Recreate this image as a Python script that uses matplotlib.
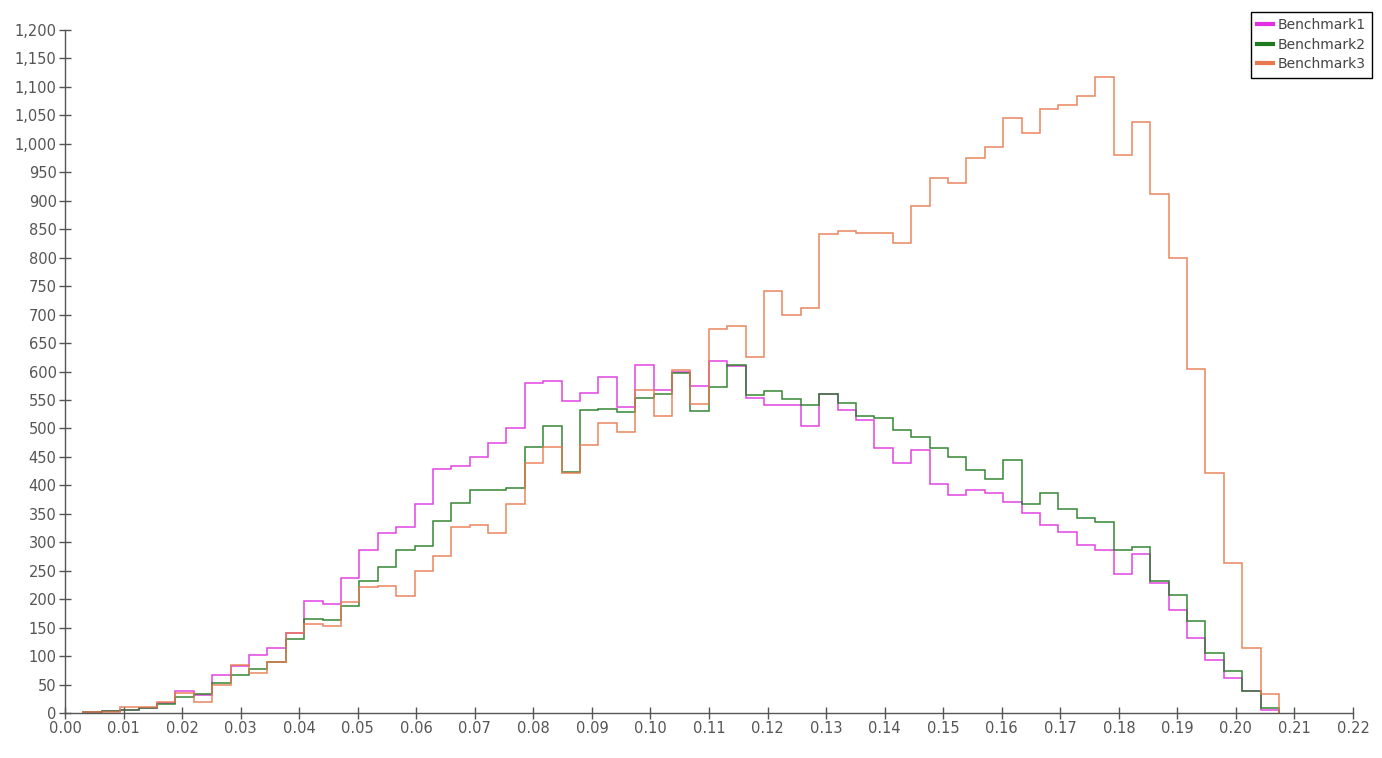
import numpy as np
import matplotlib
matplotlib.use("Agg")
import matplotlib.pyplot as plt
from matplotlib.lines import Line2D
from matplotlib.ticker import FuncFormatter, MultipleLocator

# bin edges: 65 bins of width ~0.00314, starting at one bin width
bin_width = 0.003142
edges = np.arange(1, 67) * bin_width

labels = ["Benchmark1", "Benchmark2", "Benchmark3"]
colors = ["#e030e0", "#1f7a1f", "#e8784e"]

bench1 = [1, 3, 6, 8, 17, 38, 31, 66, 83, 102,
          114, 140, 196, 192, 238, 286, 316, 327, 367, 428,
          434, 450, 474, 500, 579, 584, 549, 563, 591, 537,
          611, 568, 599, 575, 619, 609, 553, 541, 541, 504,
          560, 532, 514, 465, 439, 462, 402, 383, 391, 386,
          370, 351, 330, 318, 296, 286, 244, 279, 228, 181,
          132, 93, 62, 38, 6]
bench2 = [1, 3, 6, 8, 16, 28, 33, 53, 67, 78,
          90, 130, 165, 163, 188, 232, 256, 286, 294, 337,
          369, 391, 391, 395, 468, 505, 424, 532, 534, 528,
          553, 561, 597, 530, 573, 611, 559, 565, 551, 541,
          560, 544, 521, 518, 498, 485, 466, 450, 427, 411,
          445, 367, 387, 358, 343, 336, 286, 292, 232, 207,
          161, 106, 74, 39, 9]
bench3 = [2, 2, 10, 10, 19, 36, 20, 50, 85, 71,
          90, 141, 156, 152, 195, 222, 224, 205, 250, 276,
          326, 330, 317, 367, 439, 468, 421, 470, 509, 494,
          567, 522, 603, 543, 674, 680, 625, 742, 700, 712,
          841, 846, 844, 843, 826, 890, 940, 932, 975, 995,
          1046, 1019, 1062, 1068, 1084, 1117, 981, 1038, 912, 799,
          605, 422, 263, 114, 33]

fig = plt.figure(figsize=(13.82, 7.58), dpi=100)
ax = fig.add_axes([65 / 1382, 1 - 713 / 758, (1353 - 65) / 1382, (713 - 30) / 758])

for vals, c in zip([bench1, bench2, bench3], colors):
    ax.stairs(vals, edges, color=c, linewidth=1.1, alpha=0.9)

ax.set_xlim(0, 0.22)
ax.set_ylim(0, 1200)
ax.xaxis.set_major_locator(MultipleLocator(0.01))
ax.yaxis.set_major_locator(MultipleLocator(50))
ax.xaxis.set_major_formatter(FuncFormatter(lambda v, p: f"{v:.2f}"))
ax.yaxis.set_major_formatter(FuncFormatter(lambda v, p: f"{v:,.0f}"))

grey = "#555555"
for s in ["top", "right"]:
    ax.spines[s].set_visible(False)
for s in ["left", "bottom"]:
    ax.spines[s].set_color(grey)
    ax.spines[s].set_linewidth(1.0)
ax.tick_params(direction="inout", length=8, width=1, color=grey,
               labelcolor=grey, labelsize=10.5, pad=2)

handles = [Line2D([0], [0], color=c, linewidth=3) for c in colors]
leg = ax.legend(handles, labels, loc="upper right",
                bbox_to_anchor=(1372 / 1382, 1 - 12 / 758),
                bbox_transform=fig.transFigure, fontsize=10,
                fancybox=False, framealpha=1, handlelength=1.2,
                handletextpad=0.3, borderpad=0.45, labelspacing=0.4,
                borderaxespad=0)
leg.get_frame().set_edgecolor("black")
leg.get_frame().set_linewidth(1.0)
for t in leg.get_texts():
    t.set_color("#444444")

fig.savefig("out.png", dpi=100)
